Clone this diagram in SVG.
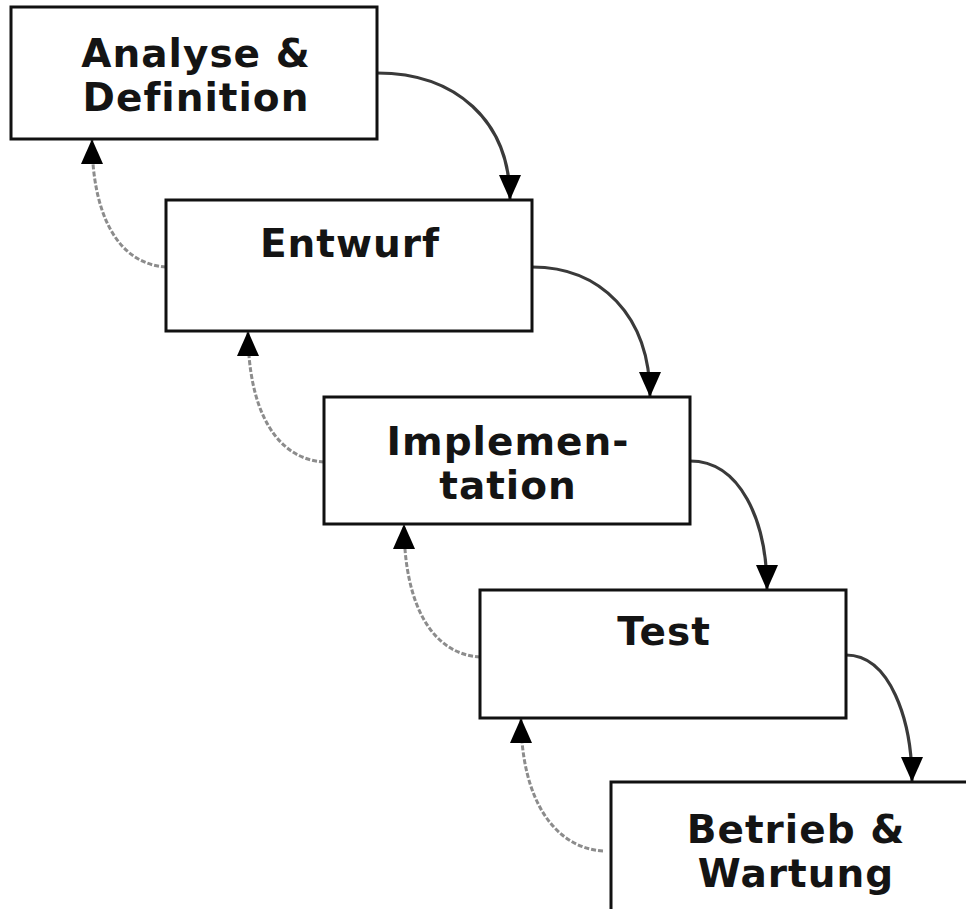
<svg xmlns="http://www.w3.org/2000/svg" width="966" height="909" viewBox="0 0 966 909">
  <style>
    .box { fill: #ffffff; stroke: #111111; stroke-width: 3; }
    .label { font-family: "DejaVu Sans", Verdana, sans-serif; font-weight: bold; font-size: 39px; letter-spacing: 1px; fill: #141414; text-anchor: middle; }
    .fwd { fill: none; stroke: #3a3a3a; stroke-width: 3.2; }
    .back { fill: none; stroke: #8c8c8c; stroke-width: 3; stroke-dasharray: 5 2; }
  </style>
  <defs>
    <marker id="head" markerUnits="userSpaceOnUse" markerWidth="26" markerHeight="24" viewBox="0 0 26 24" refX="25" refY="12" orient="auto">
      <path d="M0,1 L25,12 L0,23 Z" fill="#000000"/>
    </marker>
  </defs>
  <rect width="966" height="909" fill="#ffffff"/>

  <g id="connectors">
    <!-- forward flow: each phase into the next -->
    <path class="fwd" d="M377,73 C455,73 510,120 510,200" marker-end="url(#head)"/>
    <path class="fwd" d="M532,267 C600,267 650,315 650,397" marker-end="url(#head)"/>
    <path class="fwd" d="M690,461 C740,461 767,520 767,590" marker-end="url(#head)"/>
    <path class="fwd" d="M846,655 C890,655 912,720 912,782" marker-end="url(#head)"/>
    <!-- feedback: each phase back to the previous -->
    <path class="back" d="M166,267 C118,264 92,215 92,139" marker-end="url(#head)"/>
    <path class="back" d="M324,462 C276,459 248,410 248,331" marker-end="url(#head)"/>
    <path class="back" d="M480,657 C432,654 404,605 404,524" marker-end="url(#head)"/>
    <path class="back" d="M603,851 C555,848 521,800 521,718" marker-end="url(#head)"/>
  </g>

  <g id="analyse">
    <rect class="box" x="11" y="7" width="366" height="132"/>
    <text class="label" x="196" y="67">Analyse &amp;</text>
    <text class="label" x="196" y="111">Definition</text>
  </g>
  <g id="entwurf">
    <rect class="box" x="166" y="200" width="366" height="131"/>
    <text class="label" x="350" y="257">Entwurf</text>
  </g>
  <g id="implementation">
    <rect class="box" x="324" y="397" width="366" height="127"/>
    <text class="label" x="508" y="455">Implemen-</text>
    <text class="label" x="508" y="499">tation</text>
  </g>
  <g id="test">
    <rect class="box" x="480" y="590" width="366" height="128"/>
    <text class="label" x="664" y="645">Test</text>
  </g>
  <g id="betrieb">
    <rect class="box" x="611" y="782" width="366" height="131"/>
    <text class="label" x="796" y="843">Betrieb &amp;</text>
    <text class="label" x="796" y="887">Wartung</text>
  </g>
</svg>
